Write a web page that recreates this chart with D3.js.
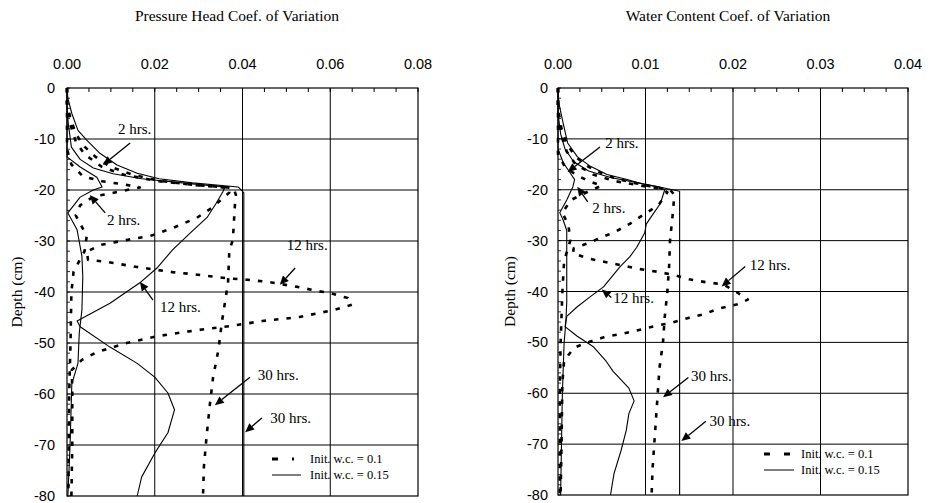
<!DOCTYPE html>
<html>
<head>
<meta charset="utf-8">
<script src="https://cdn.jsdelivr.net/npm/d3@7"></script>
<style>
  html, body { margin: 0; padding: 0; background: #fff; }
  svg { display: block; }
</style>
</head>
<body>
<svg id="chart" width="932" height="503"></svg>
<script>
// ---- axis ticks ----
const depthTicks = [0, -10, -20, -30, -40, -50, -60, -70, -80];
const phTicks = [0, 0.02, 0.04, 0.06, 0.08];
const wcTicks = [0, 0.01, 0.02, 0.03, 0.04];

// ---- pressure head coefficient of variation, [cv, depth cm] ----
const ph2Dash = [[0,0],[0,-12],[0.001,-15],[0.0036,-17.3],[0.008,-18.3],[0.013,-18.9],[0.0166,-19.5],[0.012,-20.3],[0.006,-21.3],[0.003,-23],[0.002,-25],[0.0045,-29],[0.004,-32],[0.0015,-36],[0.001,-40],[0.0008,-50],[0.0005,-60],[0.0004,-70],[0.0003,-80]];
const ph2Solid = [[0,0],[0,-13.5],[0.003,-15.5],[0.0068,-17.5],[0.008,-19.4],[0.006,-20],[0.003,-21.4],[0.0002,-24.5],[0.0023,-27.8],[0.0034,-33],[0.0036,-37],[0.0034,-43.5],[0.0028,-48],[0.0025,-54],[0.0011,-58],[0.0007,-70],[0.0002,-80]];
const ph12Dash = [[0,0],[0,-3],[0.0007,-7],[0.002,-10.5],[0.004,-13],[0.008,-15.5],[0.013,-17],[0.021,-18.3],[0.030,-19.1],[0.037,-19.6],[0.037,-20.5],[0.033,-23.5],[0.0295,-25.5],[0.024,-27.5],[0.019,-29],[0.0136,-29.8],[0.0075,-30.8],[0.0045,-32.1],[0.0048,-33.7],[0.009,-34.1],[0.016,-35.1],[0.024,-36.1],[0.0287,-36.5],[0.0364,-37.3],[0.041,-37.6],[0.0456,-38],[0.0526,-39],[0.057,-39.8],[0.060,-40.2],[0.064,-41.2],[0.065,-42.5],[0.061,-43.5],[0.0575,-44.1],[0.053,-44.9],[0.0445,-45.7],[0.037,-46.7],[0.0295,-47.5],[0.021,-48.6],[0.0136,-50],[0.0068,-51.8],[0.0034,-53.3],[0.0011,-55.3],[0.0012,-60],[0.0012,-70],[0.001,-80]];
const ph12Solid = [[0,0],[0,-4],[0.0003,-7],[0.001,-11.6],[0.003,-14],[0.006,-15.7],[0.0105,-16.8],[0.017,-17.8],[0.0286,-18.8],[0.036,-19.4],[0.0355,-20.4],[0.034,-22.6],[0.032,-25.3],[0.028,-28.5],[0.024,-31.8],[0.0205,-35.3],[0.0166,-38.2],[0.0098,-42.2],[0.0023,-45.7],[0.003,-46.8],[0.0098,-50.8],[0.016,-54],[0.020,-56.7],[0.023,-59.8],[0.0245,-63.1],[0.023,-67.6],[0.020,-71.6],[0.017,-76.3],[0.016,-80]];
const ph30Dash = [[0,0],[0,-3],[0.0008,-6],[0.002,-9],[0.004,-11.5],[0.0065,-13.5],[0.010,-15.5],[0.015,-17],[0.021,-18.2],[0.029,-19],[0.038,-19.6],[0.0385,-21],[0.0383,-22.5],[0.0378,-29.8],[0.037,-31.8],[0.0367,-38.2],[0.0353,-45.9],[0.0345,-51.4],[0.0333,-56.7],[0.0326,-61.8],[0.0318,-68.4],[0.0312,-74.3],[0.031,-80]];
const ph30Solid = [[0,0],[0.0002,-2],[0.0011,-5],[0.0025,-8.3],[0.0045,-10.2],[0.0075,-12.8],[0.0114,-15.1],[0.016,-16.7],[0.021,-17.8],[0.0286,-18.6],[0.039,-19.4],[0.0403,-20.5],[0.0403,-30],[0.0403,-50],[0.0403,-80]];

// ---- water content coefficient of variation, [cv, depth cm] ----
const wc2Dash = [[0,0],[0,-13],[0.0008,-15.5],[0.002,-17],[0.0035,-18.3],[0.005,-19.2],[0.0035,-20.3],[0.0015,-22],[0.0005,-24.5],[0.0012,-27],[0.0014,-30],[0.0007,-34],[0.0005,-40],[0.0003,-50],[0.0002,-60],[0.0002,-80]];
const wc2Solid = [[0,0],[0,-12],[0.0006,-14.7],[0.0014,-16.7],[0.0019,-18],[0.0017,-19.4],[0.001,-22],[0.0002,-24.5],[0.0006,-26],[0.001,-28],[0.001,-35],[0.001,-42],[0.0009,-46],[0.0007,-50],[0.0005,-60],[0.0004,-70],[0.0003,-80]];
const wc12Dash = [[0,0],[0,-4],[0.0003,-9],[0.001,-12.5],[0.002,-15],[0.004,-17],[0.0065,-18.3],[0.0095,-19.2],[0.0118,-19.8],[0.0125,-20.5],[0.0115,-23],[0.0097,-25],[0.0082,-26.7],[0.0065,-28.3],[0.0052,-29.2],[0.0033,-30.6],[0.0018,-31.5],[0.0017,-32.5],[0.0037,-33.6],[0.0054,-34.2],[0.0094,-35.6],[0.0113,-36.1],[0.0134,-36.8],[0.015,-37.6],[0.017,-38.2],[0.0189,-38.6],[0.0205,-40.2],[0.0217,-41.6],[0.0205,-42.5],[0.0185,-43.3],[0.0166,-44.5],[0.0149,-45.2],[0.0131,-46.1],[0.0113,-46.7],[0.0094,-47.5],[0.0074,-48.3],[0.0054,-48.9],[0.0034,-50],[0.0019,-51],[0.0007,-53.5],[0.0005,-58],[0.0004,-70],[0.0003,-80]];
const wc12Solid = [[0,0],[0,-5],[0.0003,-9],[0.0008,-12],[0.0018,-14.5],[0.0035,-16.3],[0.006,-17.6],[0.009,-18.6],[0.0115,-19.4],[0.0122,-20],[0.0117,-22.7],[0.0109,-24.7],[0.0101,-26.7],[0.0099,-28.5],[0.009,-31.3],[0.0082,-33.2],[0.0071,-35.1],[0.0052,-39.1],[0.0037,-41],[0.0022,-43],[0.001,-44.9],[0.0008,-46.9],[0.0022,-48.8],[0.004,-50.8],[0.0055,-53.7],[0.0063,-55.7],[0.0081,-59],[0.0087,-61.5],[0.0081,-64],[0.0078,-67.3],[0.0072,-71.3],[0.0064,-75.8],[0.006,-80]];
const wc30Dash = [[0,0],[0,-4],[0.0004,-8],[0.001,-11],[0.002,-13.5],[0.0035,-15.5],[0.0055,-17.2],[0.008,-18.4],[0.0105,-19.3],[0.0128,-20],[0.0133,-21],[0.0131,-25],[0.0128,-30],[0.0127,-35],[0.0125,-40],[0.0122,-45],[0.012,-50],[0.0116,-55],[0.0114,-60],[0.0112,-65],[0.011,-70],[0.0108,-75],[0.0107,-80]];
const wc30Solid = [[0,0],[0.0001,-3],[0.0006,-7],[0.0011,-10.8],[0.0022,-13.5],[0.0037,-15.4],[0.0056,-17],[0.0079,-18],[0.010,-19],[0.012,-19.6],[0.0139,-20.3],[0.0139,-30],[0.0139,-50],[0.0139,-80]];

// ---- elapsed-time callouts: label, text anchor [cv, depth], arrow tail, arrow head ----
const phNotes = [
  ["2 hrs.",  [0.0116, -9.0],  [0.0144, -10.8], [0.0082, -15.1]],
  ["2 hrs.",  [0.0091, -26.9], [0.0087, -24.5], [0.0052, -21.0]],
  ["12 hrs.", [0.0501, -31.8], [0.0520, -35.3], [0.0485, -38.6]],
  ["12 hrs.", [0.0212, -43.9], [0.0196, -41.6], [0.0166, -38.0]],
  ["30 hrs.", [0.0435, -57.3], [0.0417, -56.7], [0.0337, -62.2]],
  ["30 hrs.", [0.0463, -65.7], [0.0444, -64.7], [0.0406, -67.5]]
];
const wcNotes = [
  ["2 hrs.",  [0.0054, -11.8], [0.0048, -11.6], [0.0011, -16.5]],
  ["2 hrs.",  [0.0039, -24.5], [0.0034, -22.4], [0.0022, -19.4]],
  ["12 hrs.", [0.0219, -35.7], [0.0214, -35.1], [0.0187, -39.0]],
  ["12 hrs.", [0.0063, -42.2], [0.0061, -41.2], [0.0050, -39.6]],
  ["30 hrs.", [0.0152, -57.6], [0.0149, -56.9], [0.0120, -60.8]],
  ["30 hrs.", [0.0173, -66.5], [0.0169, -65.5], [0.0141, -69.4]]
];

const legendLabels = ["Init. w.c. = 0.1", "Init. w.c. = 0.15"];

const SERIF = "'Liberation Serif', 'DejaVu Serif', serif";
const SANS = "'Liberation Sans', Arial, sans-serif";

const panels = [
  {
    title: "Pressure Head Coef. of Variation",
    ticks: phTicks, minorStep: 0.005,
    left: 67, right: 418, top: 88, bottom: 496,
    titleX: 237, labelX: 17, yLabelGap: 12,
    curves: [[ph2Dash, true], [ph2Solid, false], [ph12Dash, true], [ph12Solid, false], [ph30Dash, true], [ph30Solid, false]],
    notes: phNotes,
    legend: { x: 272, y: 459, dashLen: 22, solidLen: 29, textX: 310 }
  },
  {
    title: "Water Content Coef. of Variation",
    ticks: wcTicks, minorStep: 0.0025,
    left: 558, right: 908, top: 88, bottom: 495,
    titleX: 728, labelX: 510, yLabelGap: 10,
    curves: [[wc2Dash, true], [wc2Solid, false], [wc12Dash, true], [wc12Solid, false], [wc30Dash, true], [wc30Solid, false]],
    notes: wcNotes,
    legend: { x: 764, y: 454, dashLen: 26, solidLen: 30, textX: 801 }
  }
];

const svg = d3.select("#chart");

panels.forEach(p => {
  const g = svg.append("g");
  const xMax = p.ticks[p.ticks.length - 1];
  const x = d3.scaleLinear().domain([0, xMax]).range([p.left, p.right]);
  const y = d3.scaleLinear().domain([0, -80]).range([p.top, p.bottom]);

  // title
  g.append("text")
    .attr("x", p.titleX).attr("y", 21)
    .attr("text-anchor", "middle")
    .attr("font-family", SERIF).attr("font-size", 15.5)
    .text(p.title);

  // grid
  g.append("g").selectAll("line").data(p.ticks.slice(1, -1)).join("line")
    .attr("x1", d => x(d)).attr("x2", d => x(d))
    .attr("y1", p.top).attr("y2", p.bottom)
    .attr("stroke", "#000").attr("stroke-width", 1);
  g.append("g").selectAll("line").data(depthTicks.slice(1, -1)).join("line")
    .attr("y1", d => y(d)).attr("y2", d => y(d))
    .attr("x1", p.left).attr("x2", p.right)
    .attr("stroke", "#000").attr("stroke-width", 1);

  // minor ticks on the top edge and left edge, pointing inward
  const minor = d3.range(0, xMax + 1e-9, p.minorStep);
  g.append("g").selectAll("line").data(minor).join("line")
    .attr("x1", d => x(d)).attr("x2", d => x(d))
    .attr("y1", p.top).attr("y2", p.top + 4)
    .attr("stroke", "#000").attr("stroke-width", 1);
  g.append("g").selectAll("line").data(d3.range(0, -81, -2)).join("line")
    .attr("y1", d => y(d)).attr("y2", d => y(d))
    .attr("x1", p.left).attr("x2", p.left + 3)
    .attr("stroke", "#000").attr("stroke-width", 0.8);

  // frame
  g.append("rect")
    .attr("x", p.left).attr("y", p.top)
    .attr("width", p.right - p.left).attr("height", p.bottom - p.top)
    .attr("fill", "none").attr("stroke", "#000").attr("stroke-width", 1.2);

  // top axis labels
  const fmt = d3.format(".2f");
  g.append("g").selectAll("text").data(p.ticks).join("text")
    .attr("x", d => x(d)).attr("y", 69)
    .attr("text-anchor", "middle")
    .attr("font-family", SANS).attr("font-size", 14.5)
    .text(d => fmt(d));

  // depth labels
  g.append("g").selectAll("text").data(depthTicks).join("text")
    .attr("x", p.left - p.yLabelGap).attr("y", d => y(d) + 5)
    .attr("text-anchor", "end")
    .attr("font-family", SANS).attr("font-size", 14.5)
    .text(d => String(d));

  // depth axis title
  g.append("text")
    .attr("transform", `translate(${p.labelX},${(p.top + p.bottom) / 2}) rotate(-90)`)
    .attr("text-anchor", "middle").attr("dy", "0.35em")
    .attr("font-family", SERIF).attr("font-size", 15.5)
    .text("Depth (cm)");

  // profiles
  const line = d3.line()
    .x(d => x(d[0])).y(d => y(d[1]));
  p.curves.forEach(([data, dashed]) => {
    g.append("path")
      .attr("d", line(data))
      .attr("fill", "none")
      .attr("stroke", "#000")
      .attr("stroke-width", dashed ? 2.6 : 1.1)
      .attr("stroke-dasharray", dashed ? "4.5,8" : null)
      .attr("stroke-linejoin", "round");
  });

  // time callouts
  p.notes.forEach(([label, at, from, to]) => {
    const x0 = x(from[0]), y0 = y(from[1]), x1 = x(to[0]), y1 = y(to[1]);
    const ang = Math.atan2(y1 - y0, x1 - x0);
    const L = 9, W = 4;
    const bx = x1 - L * Math.cos(ang), by = y1 - L * Math.sin(ang);
    g.append("line")
      .attr("x1", x0).attr("y1", y0).attr("x2", bx).attr("y2", by)
      .attr("stroke", "#000").attr("stroke-width", 1.3);
    const nx = -Math.sin(ang) * W, ny = Math.cos(ang) * W;
    g.append("path")
      .attr("d", `M${x1},${y1}L${bx + nx},${by + ny}L${bx - nx},${by - ny}Z`)
      .attr("fill", "#000");
    g.append("text")
      .attr("x", x(at[0])).attr("y", y(at[1]))
      .attr("font-family", SERIF).attr("font-size", 15)
      .text(label);
  });

  // legend
  const lg = p.legend;
  g.append("line")
    .attr("x1", lg.x).attr("x2", lg.x + lg.dashLen)
    .attr("y1", lg.y).attr("y2", lg.y)
    .attr("stroke", "#000").attr("stroke-width", 3)
    .attr("stroke-dasharray", "6,14");
  g.append("line")
    .attr("x1", lg.x).attr("x2", lg.x + lg.solidLen)
    .attr("y1", lg.y + 16).attr("y2", lg.y + 16)
    .attr("stroke", "#000").attr("stroke-width", 1);
  g.append("g").selectAll("text").data(legendLabels).join("text")
    .attr("x", lg.textX).attr("y", (d, i) => lg.y + 4 + i * 16)
    .attr("font-family", SERIF).attr("font-size", 12.5)
    .text(d => d);
});
</script>
</body>
</html>
